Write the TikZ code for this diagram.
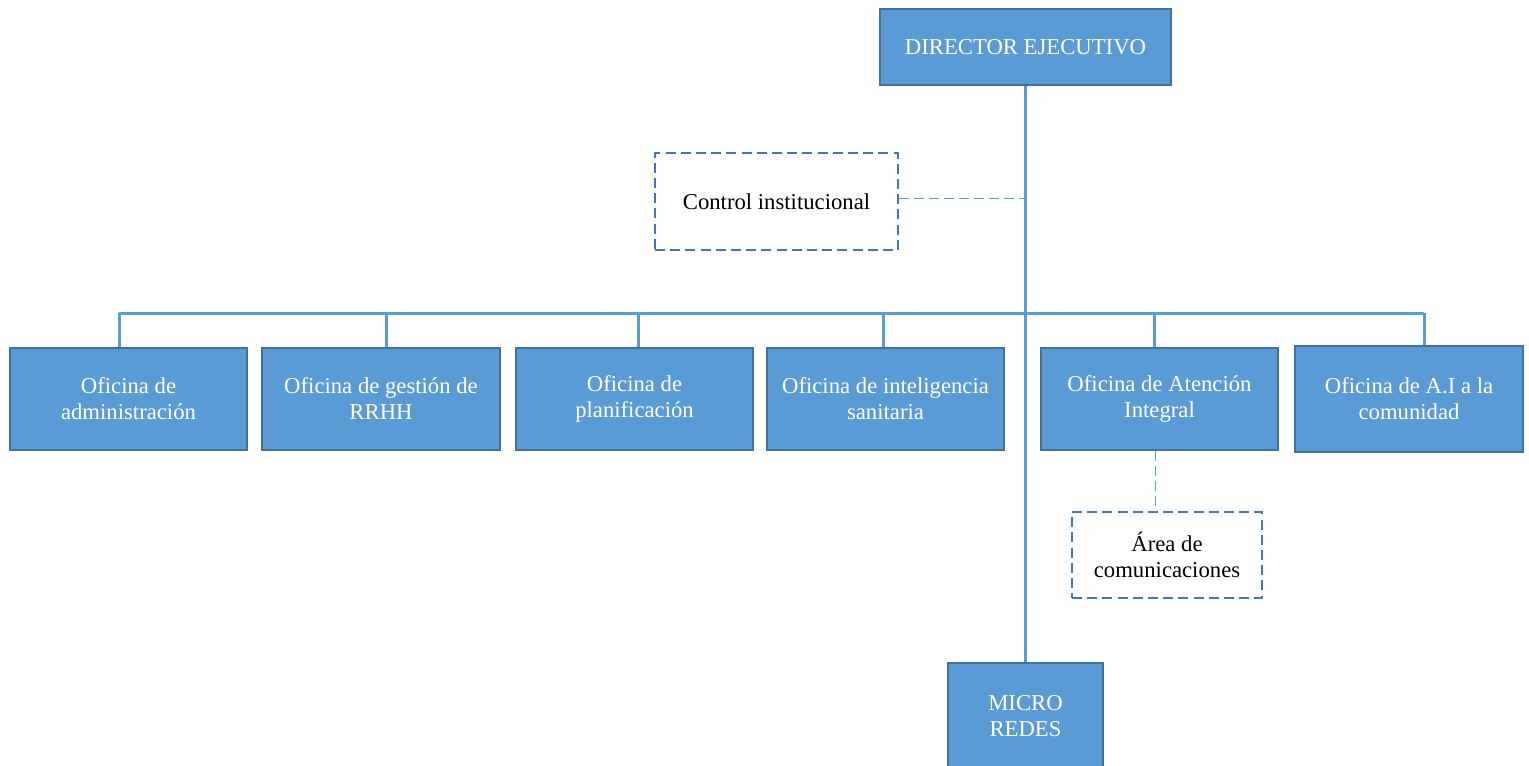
\documentclass[tikz,border=0pt]{standalone}
\usepackage{fontspec}
\setmainfont{Liberation Serif}
\definecolor{boxfill}{HTML}{5B9BD5}
\definecolor{boxedge}{HTML}{41719C}
\definecolor{dashedge}{HTML}{4472C4}
\definecolor{linecol}{HTML}{5B9BD5}
\begin{document}
\begin{tikzpicture}[x=0.5pt,y=-0.5pt,
  orgbox/.style={draw=boxedge, line width=1pt, fill=boxfill, text=white, align=center, inner sep=0pt,
    font=\fontsize{11.35pt}{13pt}\selectfont},
  dashbox/.style={draw=dashedge, line width=0.9pt, dash pattern=on 5pt off 2.6pt, fill=white, text=black, align=center, inner sep=0pt,
    font=\fontsize{11.35pt}{13pt}\selectfont},
  conn/.style={draw=linecol, line width=1.5pt},
  dconn/.style={draw=linecol, line width=0.5pt, dash pattern=on 5pt off 2.5pt}]
\useasboundingbox (0,0) rectangle (1529,765);
\clip (0,0) rectangle (1529,765);
\fill[white] (0,0) rectangle (1529,765);

% bus coordinates
\coordinate (bus) at (1025,313);
\coordinate (t1) at (119,313);
\coordinate (t2) at (386,313);
\coordinate (t3) at (638,313);
\coordinate (t4) at (883,313);
\coordinate (t5) at (1154,313);
\coordinate (t6) at (1424,313);
\coordinate (cj) at (1025,198);
\coordinate (aj) at (1155,450);

% connectors (drawn first, boxes on top)
\path[conn] (t1) -- (t6);
\path[conn] (1025,85) -- (1025,663);
\path[conn] (t1) -- (119,348);
\path[conn] (t2) -- (386,348);
\path[conn] (t3) -- (638,348);
\path[conn] (t4) -- (883,348);
\path[conn] (t5) -- (1154,348);
\path[conn] (t6) -- (1424,346);

\node[orgbox, minimum width=145.5pt, minimum height=38pt] (dir) at (1025.5,47) {DIRECTOR EJECUTIVO};
\node[dashbox, minimum width=121.5pt, minimum height=48.5pt] (ci) at (776.5,201.5) {Control institucional};
\path[dconn] (ci.east |- cj) -- (cj);

\node[orgbox, minimum width=118.5pt, minimum height=51pt] (b1) at (128.5,399) {Oficina de\\administración};
\node[orgbox, minimum width=119pt, minimum height=51pt] (b2) at (381,399) {Oficina de gestión de\\RRHH};
\node[orgbox, minimum width=118.5pt, minimum height=51pt] (b3) at (634.5,399) {Oficina de\\planificación};
\node[orgbox, minimum width=118.5pt, minimum height=51pt] (b4) at (885.5,399) {Oficina de inteligencia\\sanitaria};
\node[orgbox, minimum width=118.5pt, minimum height=51pt] (b5) at (1159.5,399) {Oficina de Atención\\Integral};
\node[orgbox, minimum width=114pt, minimum height=53pt] (b6) at (1409,399) {Oficina de A.I a la\\comunidad};

\node[dashbox, minimum width=95pt, minimum height=43pt] (area) at (1167,555) {Área de\\comunicaciones};
\path[dconn] (b5.south -| aj) -- (area.north -| aj);

\node[orgbox, minimum width=77.5pt, minimum height=53pt] (micro) at (1025.5,716) {MICRO\\REDES};
\end{tikzpicture}
\end{document}
